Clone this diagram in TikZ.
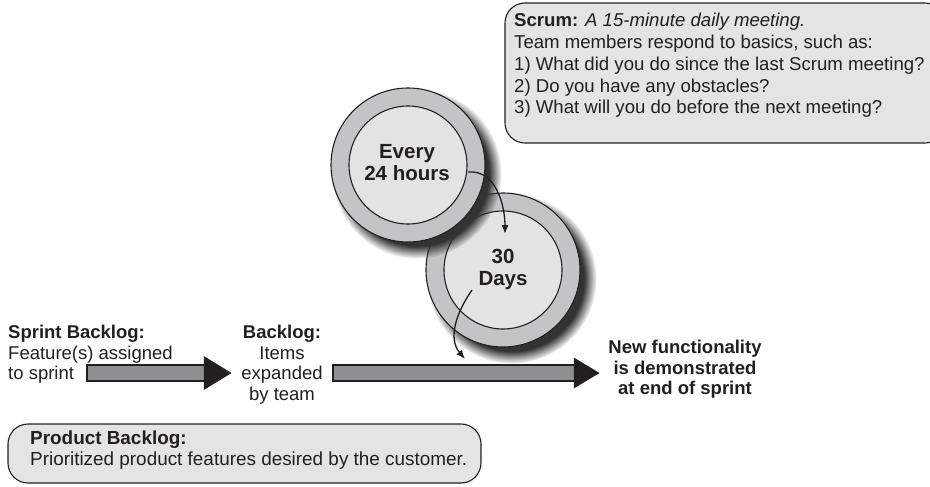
\documentclass[tikz,border=0pt]{standalone}
\usepackage{fontspec}
\setmainfont{Liberation Sans}
\usetikzlibrary{shadows,fadings,arrows.meta}
\definecolor{boxfill}{HTML}{E4E4E5}
\definecolor{ringfill}{HTML}{C4C4C6}
\definecolor{innerfill}{HTML}{E3E3E4}
\definecolor{shaftfill}{HTML}{8E8F91}
\definecolor{linecol}{HTML}{231F20}
\begin{document}
\begin{tikzpicture}[x=1pt,y=-1pt,
  txt/.style={font=\fontsize{18.5}{20.5}\selectfont, inner sep=0pt, text=linecol},
  scrumtxt/.style={font=\fontsize{18.6}{21.8}\selectfont, inner sep=0pt, text=linecol},
  bigtxt/.style={font=\fontsize{20.5}{22}\selectfont\bfseries, inner sep=0pt, text=linecol, align=center},
  notebox/.style={draw=linecol, line width=1.1pt, fill=boxfill, rounded corners=20pt},
  ring/.style={circle, draw=linecol, line width=1.1pt, fill=ringfill, minimum size=154pt, inner sep=0pt,
     circular drop shadow={shadow xshift=8pt, shadow yshift=-8pt, shadow scale=1.1, opacity=1, fill=black!80}},
  core/.style={circle, draw=linecol, line width=1.1pt, fill=innerfill, minimum size=118pt, inner sep=0pt},
  shaft/.style={draw=linecol, line width=1.2pt, fill=shaftfill},
  head/.style={fill=linecol, draw=linecol, line width=0.5pt, line join=miter},
  link/.style={draw=linecol, line width=1.3pt, -{Latex[length=9pt,width=7pt]}}
]
\useasboundingbox (0,0) rectangle (930,487);

% Scrum note
\path[notebox] (505,3) rectangle (945,143);
\node[scrumtxt, anchor=north west, align=left] (scrum) at (514,13)
  {\textbf{Scrum:} \textit{A 15-minute daily meeting.}\\
   Team members respond to basics, such as:\\
   1) What did you do since the last Scrum meeting?\\
   2) Do you have any obstacles?\\
   3) What will you do before the next meeting?};

% 30 days cycle
\node[ring] (monthring) at (503,270) {};
\node[core] (month) at (503,270) {};
\node[bigtxt, anchor=north] (monthtxt) at (503,249) {30\\Days};

% 24 hour cycle
\node[ring] (dayring) at (408,165) {};
\node[core] (day) at (408,165) {};
\node[bigtxt, anchor=north] (daytxt) at (407,144) {Every\\24 hours};

% free ends of the cycle links
\coordinate (dayout) at (468,172);
\coordinate (monthin) at (505,234);
\coordinate (monthout) at (472,290);
\coordinate (sprintin) at (465,359);
\draw[link] (dayout) to[out=5, in=90] (monthin);
\draw[link] (monthout) to[out=-125, in=130] (sprintin);

% labels
\node[txt, anchor=north west, align=left] (sprint) at (8,325)
  {\textbf{Sprint Backlog:}\\Feature(s) assigned\\to sprint};
\node[txt, anchor=north, align=center] (backlog) at (282,325)
  {\textbf{Backlog:}\\Items\\expanded\\by team};
\node[txt, anchor=north, align=center, font=\fontsize{18.5}{20.5}\selectfont\bfseries] (result) at (685,340)
  {New functionality\\is demonstrated\\at end of sprint};

% big arrows
\coordinate (a1s) at (87,373);
\coordinate (a1t) at (231,373);
\coordinate (a2s) at (333,373);
\coordinate (a2t) at (599,373);
\path[shaft] ([yshift=-8pt]a1s) rectangle ([xshift=-24pt,yshift=8pt]a1t);
\path[head] ([xshift=-27pt,yshift=-16.5pt]a1t) -- (a1t) -- ([xshift=-27pt,yshift=16.5pt]a1t) -- cycle;
\path[shaft] ([yshift=-8pt]a2s) rectangle ([xshift=-22pt,yshift=8pt]a2t);
\path[head] ([xshift=-25pt,yshift=-15pt]a2t) -- (a2t) -- ([xshift=-25pt,yshift=15pt]a2t) -- cycle;

% Product backlog note
\path[notebox] (8,424) rectangle (481,483);
\node[txt, anchor=north west, align=left, font=\fontsize{18.9}{21}\selectfont] (product) at (30,431)
  {\textbf{Product Backlog:}\\Prioritized product features desired by the customer.};
\end{tikzpicture}
\end{document}
